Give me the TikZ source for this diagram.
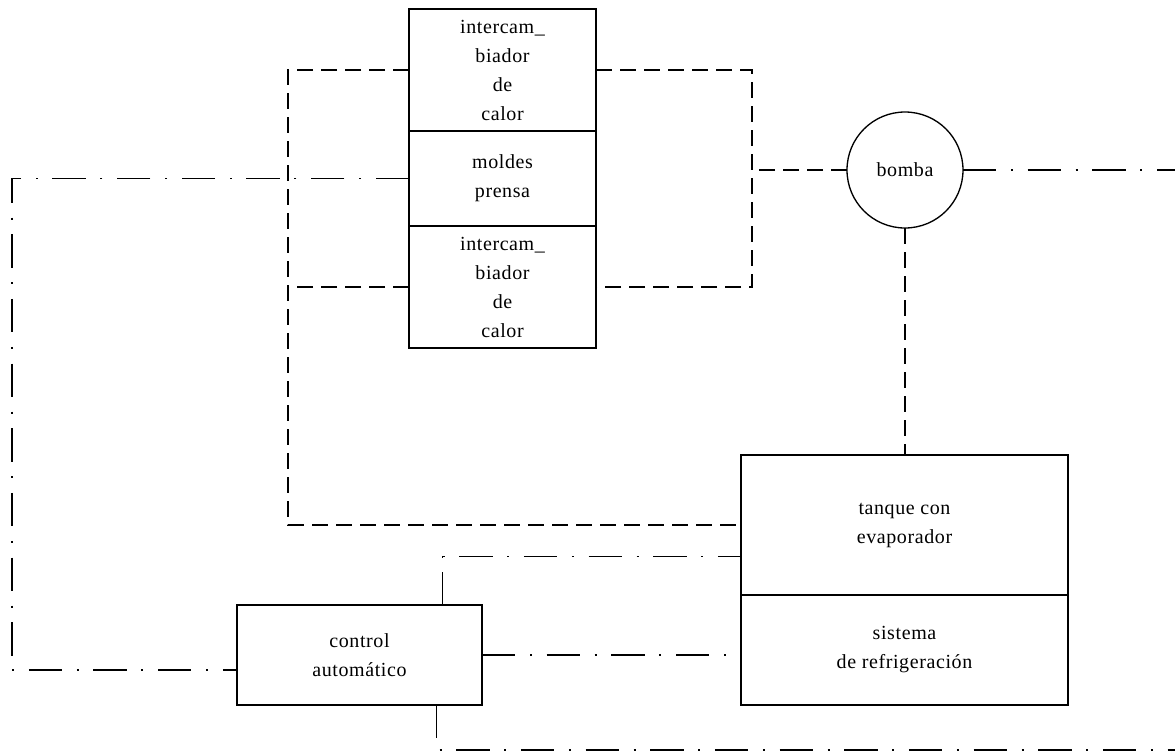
\documentclass[tikz,border=0pt]{standalone}
\usepackage{fontspec}
\setmainfont{Liberation Serif}[LetterSpace=3]
\usepackage{tikz}

\begin{document}
\begin{tikzpicture}[x=0.75pt,y=-0.75pt,inner sep=0pt,outer sep=0pt,line width=1pt,
sysblock/.style={draw,rectangle,align=center,font=\fontsize{15}{21.75}\selectfont},
pipe/.style={dash pattern=on 12pt off 6pt},
signal/.style={dash pattern=on 25pt off 11pt on 1.5pt off 11pt}]
\useasboundingbox (0,0) rectangle (1175,751);
\draw (502.5,70) node[sysblock,minimum width=140.25pt,minimum height=91.5pt] (hx1) {intercam\_\\biador\\de\\calor};
\draw (502.5,178.5) node[sysblock,minimum width=140.25pt,minimum height=71.25pt] (molde) {moldes\\prensa};
\draw (502.5,287) node[sysblock,minimum width=140.25pt,minimum height=91.5pt] (hx2) {intercam\_\\biador\\de\\calor};
\draw (905,170) node[sysblock,circle,minimum size=87pt] (bomba) {bomba};
\draw (904.5,525) node[sysblock,minimum width=245.25pt,minimum height=105pt] (tanque) {tanque con\\evaporador};
\draw (904.5,650) node[sysblock,minimum width=245.25pt,minimum height=82.5pt] (sistema) {sistema\\de refrigeración};
\draw (359.5,655) node[sysblock,minimum width=183.75pt,minimum height=75pt] (control) {control\\automático};
\coordinate (lbus) at (288,70);
\coordinate (rbus) at (752,70);
\coordinate (lft) at (12,0);
\coordinate (out1) at (1175,170);
\coordinate (out2) at (1175,750);
% circuito de agua
\draw[pipe] (hx1.west) -- (lbus) |- (tanque.west);
\draw[pipe] (hx2.west) -- (hx2.west -| lbus);
\draw[pipe] (hx1.east) -- (rbus) |- (hx2.east);
\draw[pipe] (bomba.west) -- (bomba.west -| rbus);
\draw[pipe] (bomba.south) -- (bomba.south |- tanque.north);
% senales de control
\draw[signal] (bomba.east) -- (out1);
\draw[signal] (molde.west) -- (molde.west -| lft) |- (control.187);
\draw[signal] (control.east) -- (control.east -| sistema.west);
\draw[signal] (control.31) |- (tanque.191);
\draw[signal] (control.-33) |- (out2);
\end{tikzpicture}
\end{document}
